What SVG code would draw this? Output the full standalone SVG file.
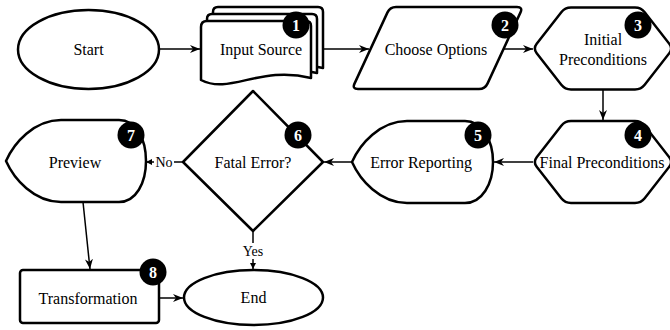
<svg xmlns="http://www.w3.org/2000/svg" width="670" height="330" viewBox="0 0 670 330">
<defs>
<style>
.shape{fill:#fff;stroke:#000;stroke-width:2.5;stroke-linejoin:round}
.edge{fill:none;stroke:#000;stroke-width:1.5}
.lbl{font-size:16px;fill:#000;text-anchor:middle}
.elbl{font-size:14px;fill:#000;text-anchor:middle}
.badge circle{fill:#000}
.badge text{font-size:16px;font-weight:bold;fill:#fff;text-anchor:middle}
</style>
<marker id="arr" markerUnits="userSpaceOnUse" markerWidth="12" markerHeight="10" refX="10" refY="5" orient="auto">
<path d="M0,1 L10,5 L0,9 L3,5 Z" fill="#000"/>
</marker>
<marker id="blk" markerUnits="userSpaceOnUse" markerWidth="8" markerHeight="8" refX="6" refY="3.5" orient="auto">
<path d="M0,0.5 L6,3.5 L0,6.5 Z" fill="#000"/>
</marker>
</defs>
<rect width="670" height="330" fill="#fff"/>
<g font-family="Liberation Serif, Times New Roman, serif">
<g id="connectors">
<line class="edge" x1="159" y1="49" x2="200" y2="49" marker-end="url(#arr)"/>
<line class="edge" x1="323" y1="49" x2="369" y2="49" marker-end="url(#arr)"/>
<line class="edge" x1="503" y1="49" x2="533" y2="49" marker-end="url(#arr)"/>
<line class="edge" x1="603" y1="89" x2="603" y2="120" marker-end="url(#arr)"/>
<line class="edge" x1="533" y1="162" x2="494" y2="162" marker-end="url(#arr)"/>
<line class="edge" x1="352" y1="162" x2="324" y2="162" marker-end="url(#arr)"/>
<line class="edge" x1="183" y1="162" x2="146" y2="162" marker-end="url(#blk)"/>
<rect x="154" y="154" width="20" height="16" fill="#fff"/>
<text class="elbl" x="164" y="167">No</text>
<line class="edge" x1="253" y1="231" x2="253" y2="269" marker-end="url(#blk)"/>
<rect x="241" y="243" width="24" height="16" fill="#fff"/>
<text class="elbl" x="253" y="256">Yes</text>
<line class="edge" x1="83" y1="202" x2="90" y2="269" marker-end="url(#arr)"/>
<line class="edge" x1="159" y1="298" x2="183" y2="298" marker-end="url(#arr)"/>
</g>

<g id="start">
<ellipse class="shape" cx="88.5" cy="49.5" rx="70.5" ry="39.5"/>
<text class="lbl" x="88.5" y="55">Start</text>
</g>

<g id="input-source">
<path class="shape" d="M213,12 Q213,7 218,7 L318,7 Q323,7 323,12 L323,68 C272,55 242,85 213,70 Z"/>
<path class="shape" d="M207,19 Q207,14 212,14 L312,14 Q317,14 317,19 L317,73 C266,60 236,90 207,75 Z"/>
<path class="shape" d="M201,27 Q201,21 207,21 L306,21 Q311,21 311,26 L311,78 C260,65 230,95 201,80 Z"/>
<text class="lbl" x="261" y="54.5">Input Source</text>
<g class="badge"><circle cx="296" cy="25" r="13.5"/><text x="296" y="30.5">1</text></g>
</g>

<g id="choose-options">
<path class="shape" d="M396,7 L517,7 Q523,7 520.5,12.4 L487.5,83.6 Q485,89 479,89 L358,89 Q352,89 354.5,83.6 L387.5,12.4 Q390,7 396,7 Z"/>
<text class="lbl" x="436" y="54.5">Choose Options</text>
<g class="badge"><circle cx="505" cy="25" r="13.5"/><text x="505" y="30.5">2</text></g>
</g>

<g id="initial-preconditions">
<path class="shape" d="M536.7,43.8 L561.3,12.2 Q565,7.5 571,7.5 L635,7.5 Q641,7.5 644.7,12.2 L669.3,43.8 Q673,48.5 669.3,53.2 L644.7,84.8 Q641,89.5 635,89.5 L571,89.5 Q565,89.5 561.3,84.8 L536.7,53.2 Q533,48.5 536.7,43.8 Z"/>
<text class="lbl" x="603" y="44.5">Initial</text>
<text class="lbl" x="603" y="64.5">Preconditions</text>
<g class="badge"><circle cx="638" cy="25" r="13.5"/><text x="638" y="30.5">3</text></g>
</g>

<g id="final-preconditions">
<path class="shape" d="M536.7,157.3 L561.3,125.7 Q565,121 571,121 L635,121 Q641,121 644.7,125.7 L669.3,157.3 Q673,162 669.3,166.7 L644.7,198.3 Q641,203 635,203 L571,203 Q565,203 561.3,198.3 L536.7,166.7 Q533,162 536.7,157.3 Z"/>
<text class="lbl" x="602" y="167.5">Final Preconditions</text>
<g class="badge"><circle cx="638" cy="135" r="13.5"/><text x="638" y="140.5">4</text></g>
</g>

<g id="error-reporting">
<path class="shape" d="M352,162 C360,144 380,121 407,121 L465,121 C482,121 493,140 493,162 C493,184 482,203 465,203 L407,203 C380,203 360,180 352,162 Z"/>
<text class="lbl" x="421" y="168">Error Reporting</text>
<g class="badge"><circle cx="478" cy="135" r="13.5"/><text x="478" y="140.5">5</text></g>
</g>

<g id="fatal-error">
<path class="shape" d="M253,91 L323,162 L253,231 L183,162 Z"/>
<text class="lbl" x="253" y="167.5">Fatal Error?</text>
<g class="badge"><circle cx="298" cy="135" r="13.5"/><text x="298" y="140.5">6</text></g>
</g>

<g id="preview">
<path class="shape" d="M6,161 C14,143 34,120 61,120 L119,120 C136,120 146,139 146,161 C146,183 136,202 119,202 L61,202 C34,202 14,179 6,161 Z"/>
<text class="lbl" x="75" y="167.5">Preview</text>
<g class="badge"><circle cx="131" cy="135" r="13.5"/><text x="131" y="140.5">7</text></g>
</g>

<g id="transformation">
<rect class="shape" x="20" y="270" width="139" height="53" rx="3"/>
<text class="lbl" x="88" y="303.5">Transformation</text>
<g class="badge"><circle cx="153" cy="272" r="13.5"/><text x="153" y="277.5">8</text></g>
</g>

<g id="end">
<ellipse class="shape" cx="253.5" cy="297.5" rx="69.5" ry="27.5"/>
<text class="lbl" x="253.5" y="303">End</text>
</g>
</g>
</svg>
